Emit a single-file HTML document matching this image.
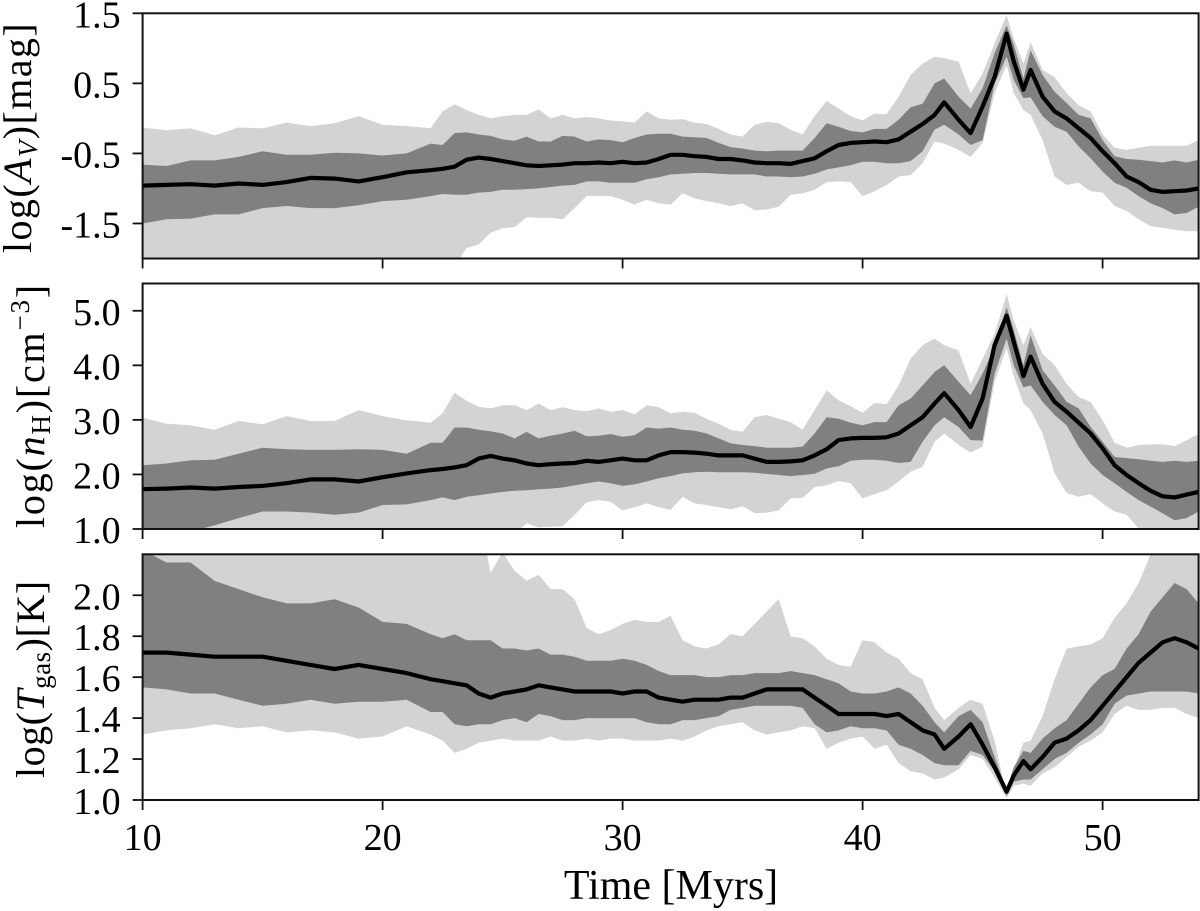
<!DOCTYPE html>
<html lang="en">
<head>
<meta charset="utf-8">
<title>Time evolution of extinction, density and gas temperature</title>
<style>
html,body{margin:0;padding:0;background:#fff;}
svg{display:block;}
text{font-family:"Liberation Serif",serif;fill:#000;}
</style>
</head>
<body>
<svg id="chart" xmlns="http://www.w3.org/2000/svg" width="1200" height="911" viewBox="0 0 1200 911">
  <text transform="translate(31,253) rotate(-90)" font-size="40" letter-spacing="1.4">log(<tspan font-style="italic">A</tspan><tspan font-style="italic" font-size="27" dy="6">V</tspan><tspan dy="-6">)[mag]</tspan></text>
  <text transform="translate(44,528) rotate(-90)" font-size="40" letter-spacing="1.8">log(<tspan font-style="italic">n</tspan><tspan font-size="27" dy="6">H</tspan><tspan dy="-6">)[cm</tspan><tspan font-size="27" dy="-15">−3</tspan><tspan dy="15">]</tspan></text>
  <text transform="translate(44,778) rotate(-90)" font-size="40" letter-spacing="0.5">log(<tspan font-style="italic">T</tspan><tspan font-size="27" dy="6">gas</tspan><tspan dy="-6">)[K]</tspan></text>
  <text x="671" y="899" font-size="42" text-anchor="middle">Time [Myrs]</text>
</svg>
<script>
const times=[10,11,12,13,14,15,16,17,18,19,20,21,22,22.5,23,23.5,24,24.5,25,25.5,26,26.5,27,27.5,28,28.5,29,
29.5,30,30.5,31,31.5,32,32.5,33,33.5,34,34.5,35,35.5,36,36.5,37,37.5,38,38.5,39,39.5,40,40.5,41,41.5,42,42.5,43,
43.4,44,44.5,45,45.5,46,46.3,46.7,47,
47.5,48,48.5,49,49.5,50,50.5,51,51.5,52,52.5,53,53.5,54];

const avOuterHigh=[-0.13,-0.17,-0.14,-0.24,-0.13,-0.14,-0.06,-0.11,-0.07,0.03,-0.09,-0.11,-0.14,0.1,0.2,0.12,0.05,0,0.03,0.05,0.05,0.13,0,0.05,0,0.02,0,
-0.03,-0.04,-0.06,0.1,0,-0.02,-0.01,-0.06,-0.08,-0.15,-0.23,-0.26,-0.09,-0.05,-0.07,-0.16,-0.23,0.03,0.25,0.14,0.03,-0.03,0.07,0.06,0.31,0.62,0.78,0.88,
0.86,0.81,0.36,0.64,1.07,1.47,1.14,0.78,1.09,
0.69,0.59,0.36,0.19,0.1,-0.23,-0.42,-0.45,-0.42,-0.39,-0.39,-0.39,-0.39,-0.31];
const avInnerHigh=[-0.66,-0.68,-0.6,-0.6,-0.55,-0.47,-0.52,-0.52,-0.49,-0.5,-0.53,-0.5,-0.36,-0.38,-0.21,-0.2,-0.23,-0.25,-0.3,-0.32,-0.26,-0.33,-0.33,-0.25,-0.26,-0.33,-0.3,
-0.31,-0.34,-0.28,-0.23,-0.22,-0.22,-0.26,-0.27,-0.28,-0.35,-0.41,-0.43,-0.46,-0.47,-0.46,-0.46,-0.46,-0.28,-0.07,-0.12,-0.18,-0.2,-0.15,-0.15,-0.02,0.16,0.21,0.5,
0.57,0.31,0.14,0.43,0.93,1.33,1.05,0.57,0.97,
0.62,0.38,0.22,0.05,0,-0.31,-0.54,-0.58,-0.59,-0.61,-0.63,-0.6,-0.63,-0.59];
const avMedian=[-0.96,-0.95,-0.94,-0.96,-0.93,-0.95,-0.91,-0.85,-0.86,-0.9,-0.84,-0.77,-0.74,-0.72,-0.69,-0.59,-0.56,-0.58,-0.61,-0.64,-0.67,-0.68,-0.67,-0.66,-0.64,-0.64,-0.63,
-0.64,-0.62,-0.64,-0.63,-0.58,-0.52,-0.52,-0.54,-0.55,-0.58,-0.58,-0.6,-0.63,-0.64,-0.64,-0.65,-0.61,-0.57,-0.47,-0.38,-0.35,-0.34,-0.33,-0.34,-0.3,-0.19,-0.08,0.05,
0.23,-0.02,-0.21,0.17,0.59,1.21,0.81,0.41,0.69,
0.31,0.1,0,-0.14,-0.28,-0.47,-0.64,-0.83,-0.91,-1.02,-1.05,-1.04,-1.03,-1];
const avInnerLow=[-1.5,-1.44,-1.43,-1.37,-1.37,-1.28,-1.25,-1.28,-1.28,-1.24,-1.18,-1.16,-1.11,-1.08,-1.09,-1.09,-1.06,-1.05,-1.02,-1.02,-1.01,-1,-0.98,-0.96,-0.95,-0.9,-0.9,
-0.92,-0.92,-0.92,-0.87,-0.84,-0.8,-0.79,-0.78,-0.78,-0.79,-0.8,-0.8,-0.8,-0.83,-0.83,-0.84,-0.83,-0.79,-0.73,-0.7,-0.67,-0.62,-0.62,-0.64,-0.64,-0.61,-0.47,-0.16,
-0.09,-0.23,-0.38,-0.31,0.5,0.88,0.55,0.29,0.3,
0.03,-0.12,-0.19,-0.4,-0.57,-0.76,-0.92,-0.99,-1.11,-1.21,-1.28,-1.37,-1.35,-1.26];
const avOuterLow=[-2.5,-2.5,-2.5,-2.5,-2.5,-2.5,-2.5,-2.5,-2.5,-2.5,-2.5,-2.5,-2.5,-2.4,-2.1,-1.85,-1.8,-1.63,-1.57,-1.55,-1.41,-1.42,-1.42,-1.44,-1.28,-1.11,-1.11,
-1.11,-1.16,-1.23,-1.16,-1.21,-1.23,-1.07,-1.14,-1.18,-1.21,-1.25,-1.21,-1.31,-1.3,-1.26,-1.09,-1.07,-1.02,-0.91,-0.9,-0.91,-1.11,-1.04,-0.95,-0.83,-0.81,-0.64,-0.33,
-0.36,-0.45,-0.55,-0.35,0.36,0.76,0.36,0.12,0.05,
-0.31,-0.83,-0.95,-0.92,-1.04,-1.06,-1.25,-1.32,-1.44,-1.54,-1.56,-1.59,-1.61,-1.61];

const nhOuterHigh=[3.04,2.93,2.9,2.82,2.98,2.92,3.07,2.98,2.98,3.18,3.07,2.99,2.95,3.12,3.5,3.35,3.24,3.21,3.27,3.27,3.18,3.3,3.18,3.23,3.18,3.16,3.21,
3.15,3.18,3.1,3.27,3.23,3.12,3.15,3.13,3.02,2.93,2.82,2.78,3.05,3.09,3.02,2.96,2.82,3.18,3.54,3.36,3.25,3.13,3.31,3.29,3.63,4.12,4.37,4.49,
4.37,4.27,3.66,4.12,4.58,5.3,4.82,4.37,4.7,
4.21,4,3.66,3.42,3.33,2.99,2.58,2.49,2.54,2.55,2.55,2.52,2.63,2.74];
const nhInnerHigh=[2.17,2.2,2.26,2.27,2.38,2.49,2.46,2.45,2.45,2.46,2.45,2.38,2.58,2.58,2.86,2.86,2.82,2.79,2.75,2.66,2.78,2.66,2.71,2.75,2.8,2.7,2.71,
2.74,2.69,2.72,2.86,2.84,2.86,2.82,2.8,2.75,2.66,2.57,2.54,2.52,2.49,2.49,2.49,2.51,2.75,3.05,3.02,2.95,2.9,2.96,2.96,3.27,3.39,3.63,3.88,
4,3.7,3.45,3.85,4.34,5.07,4.64,4,4.55,
3.91,3.63,3.33,3.21,2.87,2.6,2.32,2.3,2.28,2.25,2.23,2.25,2.23,2.25];
const nhMedian=[1.73,1.74,1.76,1.74,1.77,1.79,1.84,1.91,1.91,1.87,1.95,2.02,2.08,2.1,2.13,2.17,2.29,2.34,2.29,2.26,2.2,2.17,2.19,2.2,2.21,2.25,2.23,
2.26,2.29,2.26,2.26,2.35,2.41,2.41,2.4,2.38,2.35,2.35,2.35,2.29,2.23,2.23,2.24,2.26,2.35,2.46,2.63,2.66,2.67,2.67,2.68,2.75,2.9,3.05,3.3,
3.49,3.18,2.87,3.39,4.37,4.91,4.43,3.8,4.16,
3.66,3.33,3.15,2.95,2.75,2.48,2.17,1.99,1.84,1.7,1.6,1.58,1.63,1.68];
const nhInnerLow=[0.86,0.92,0.95,1.07,1.2,1.32,1.32,1.3,1.26,1.3,1.44,1.45,1.53,1.58,1.53,1.59,1.62,1.65,1.68,1.7,1.71,1.73,1.74,1.76,1.8,1.84,1.87,
1.84,1.79,1.82,1.87,1.93,1.97,2.02,2.04,2.05,2.04,2.04,2.04,2.03,2.01,1.99,1.97,1.99,2.01,2.11,2.15,2.25,2.27,2.27,2.25,2.21,2.23,2.6,2.9,
3.05,2.87,2.63,2.62,3.85,4.49,4,3.6,3.63,
3.33,3.09,2.9,2.51,2.2,1.99,1.84,1.68,1.53,1.41,1.29,1.16,1.2,1.32];
const nhOuterLow=[0.5,0.5,0.5,0.5,0.5,0.5,0.5,0.5,0.5,0.5,0.5,0.5,0.5,0.5,0.5,0.5,0.5,0.5,0.5,0.92,1.1,1.03,1.04,1.05,1.26,1.49,1.53,
1.5,1.34,1.4,1.47,1.4,1.35,1.59,1.47,1.44,1.4,1.36,1.42,1.29,1.3,1.34,1.56,1.57,1.77,1.8,1.88,1.84,1.56,1.64,1.71,1.87,2.05,2.14,2.6,
2.75,2.54,2.4,2.51,3.7,4.32,3.79,3.3,3.18,
2.75,2.02,1.66,1.59,1.64,1.47,1.32,1.26,1.01,0.92,0.89,0.86,0.95,1.01];

const tgOuterHigh=[2.4,2.4,2.4,2.4,2.4,2.4,2.4,2.4,2.4,2.4,2.4,2.4,2.4,2.4,2.4,2.4,2.4,2.11,2.21,2.12,2.07,2.1,2.03,2.03,1.98,1.84,1.81,
1.83,1.86,1.88,1.87,1.87,1.9,1.78,1.75,1.74,1.76,1.81,1.8,1.86,1.92,1.98,1.8,1.79,1.75,1.69,1.66,1.65,1.78,1.77,1.72,1.69,1.62,1.59,1.45,
1.39,1.45,1.49,1.47,1.29,1.02,1.15,1.28,1.29,
1.41,1.59,1.74,1.75,1.76,1.79,1.89,1.96,2.06,2.2,2.24,2.27,2.27,2.27];
const tgInnerHigh=[2.22,2.16,2.16,2.07,2.03,1.99,1.96,1.96,1.98,1.94,1.87,1.86,1.81,1.79,1.81,1.78,1.78,1.78,1.74,1.74,1.73,1.74,1.71,1.71,1.7,1.68,1.68,
1.68,1.69,1.68,1.66,1.63,1.61,1.61,1.61,1.6,1.6,1.61,1.61,1.62,1.62,1.62,1.63,1.62,1.61,1.59,1.57,1.53,1.52,1.52,1.53,1.55,1.52,1.46,1.38,
1.33,1.41,1.44,1.38,1.21,1.05,1.16,1.24,1.23,
1.3,1.35,1.39,1.47,1.55,1.61,1.64,1.74,1.81,1.92,1.99,2.06,2.03,1.96];
const tgMedian=[1.72,1.72,1.71,1.7,1.7,1.7,1.68,1.66,1.64,1.66,1.64,1.62,1.59,1.58,1.57,1.56,1.52,1.5,1.52,1.53,1.54,1.56,1.55,1.54,1.53,1.53,1.53,
1.53,1.52,1.53,1.53,1.5,1.49,1.48,1.49,1.49,1.49,1.5,1.5,1.52,1.54,1.54,1.54,1.54,1.5,1.46,1.42,1.42,1.42,1.42,1.41,1.42,1.38,1.34,1.32,
1.25,1.31,1.37,1.27,1.16,1.04,1.12,1.19,1.15,
1.21,1.28,1.3,1.34,1.39,1.46,1.53,1.6,1.67,1.72,1.77,1.79,1.77,1.74];
const tgInnerLow=[1.55,1.54,1.52,1.52,1.49,1.46,1.47,1.49,1.47,1.48,1.48,1.49,1.43,1.43,1.37,1.36,1.37,1.37,1.39,1.4,1.38,1.42,1.41,1.39,1.39,1.4,1.4,
1.4,1.4,1.4,1.38,1.37,1.37,1.39,1.39,1.4,1.41,1.44,1.45,1.46,1.46,1.46,1.46,1.45,1.37,1.33,1.34,1.36,1.35,1.35,1.34,1.27,1.25,1.22,1.18,
1.17,1.17,1.24,1.22,1.14,1.02,1.09,1.1,1.1,
1.15,1.2,1.23,1.28,1.32,1.37,1.47,1.51,1.52,1.53,1.53,1.53,1.53,1.52];
const tgOuterLow=[1.32,1.34,1.35,1.37,1.35,1.36,1.33,1.34,1.33,1.3,1.31,1.36,1.32,1.29,1.23,1.25,1.28,1.29,1.3,1.29,1.29,1.29,1.31,1.29,1.29,1.3,1.29,
1.3,1.3,1.29,1.29,1.29,1.3,1.29,1.31,1.34,1.36,1.37,1.38,1.34,1.32,1.33,1.34,1.36,1.35,1.25,1.28,1.3,1.31,1.25,1.27,1.18,1.14,1.13,1.1,
1.11,1.15,1.22,1.2,1.11,1.01,1.07,1.08,1.07,
1.13,1.16,1.21,1.26,1.29,1.33,1.42,1.46,1.44,1.44,1.45,1.45,1.42,1.4];

const avTicks=[1.5,0.5,-0.5,-1.5];
const avTickLabels=["1.5","0.5","-0.5","-1.5"];
const nhTicks=[5,4,3,2,1];
const nhTickLabels=["5.0","4.0","3.0","2.0","1.0"];
const tgTicks=[2,1.8,1.6,1.4,1.2,1];
const tgTickLabels=["2.0","1.8","1.6","1.4","1.2","1.0"];
const xTicks=[10,20,30,40,50];
const xTickLabels=["10","20","30","40","50"];

const SVG_NS="http://www.w3.org/2000/svg";
const chart=document.getElementById("chart");
const LEFT=142.6, RIGHT=1198.6;
function xScale(t){return LEFT+(t-10)*(RIGHT-LEFT)/44;}
function linearY(top,bottom,vMax,vMin){return function(v){return bottom-(v-vMin)*(bottom-top)/(vMax-vMin);};}
function make(tag,attrs,parent){
  const el=document.createElementNS(SVG_NS,tag);
  Object.keys(attrs).forEach(function(k){el.setAttribute(k,attrs[k]);});
  (parent||chart).appendChild(el);
  return el;
}
function bandPath(high,low,y){
  let d="";
  times.forEach(function(t,i){d+=(i?"L":"M")+xScale(t).toFixed(1)+" "+y(high[i]).toFixed(1);});
  for(let i=times.length-1;i>=0;i--){d+="L"+xScale(times[i]).toFixed(1)+" "+y(low[i]).toFixed(1);}
  return d+"Z";
}
function linePath(vals,y){
  let d="";
  times.forEach(function(t,i){d+=(i?"L":"M")+xScale(t).toFixed(1)+" "+y(vals[i]).toFixed(1);});
  return d;
}
function drawPanel(key,top,bottom,vMax,vMin,outerHigh,innerHigh,median,innerLow,outerLow,ticks,labels,showX){
  const y=linearY(top,bottom,vMax,vMin);
  const group=make("g",{});
  
  
  const clip=make("clipPath",{id:"clip-"+key},group);
  make("rect",{x:LEFT,y:top,width:RIGHT-LEFT,height:bottom-top},clip);
  const outer=make("path",{d:bandPath(outerHigh,outerLow,y),fill:"#d3d3d3","clip-path":"url(#clip-"+key+")"},group);
  
  
  const inner=make("path",{d:bandPath(innerHigh,innerLow,y),fill:"#808080","clip-path":"url(#clip-"+key+")"},group);
  
  
  const line=make("path",{d:linePath(median,y),fill:"none",stroke:"#000","stroke-width":4.2,"stroke-linejoin":"round","clip-path":"url(#clip-"+key+")"},group);
  
  
  const frame=make("rect",{x:LEFT,y:top,width:RIGHT-LEFT,height:bottom-top,fill:"none",stroke:"#111","stroke-width":2},group);
  
  
  ticks.forEach(function(v,i){
    const py=y(v);
    const tick=make("line",{x1:LEFT-10,x2:LEFT,y1:py,y2:py,stroke:"#111","stroke-width":1.8},group);
    
    
    const label=make("text",{x:LEFT-22,y:py+14,"font-size":38,"text-anchor":"end"},group);
    
    
    label.textContent=labels[i];
  });
  xTicks.forEach(function(t,i){
    const px=xScale(t);
    const tick=make("line",{x1:px,x2:px,y1:bottom,y2:bottom+10,stroke:"#111","stroke-width":1.8},group);
    
    
    if(showX){
      const label=make("text",{x:px,y:bottom+50,"font-size":38,"text-anchor":"middle"},group);
      
      
      label.textContent=xTickLabels[i];
    }
  });
}
drawPanel("av",13.3,258.5,1.5,-2,avOuterHigh,avInnerHigh,avMedian,avInnerLow,avOuterLow,avTicks,avTickLabels,false);
drawPanel("density",283.5,529,5.5,1,nhOuterHigh,nhInnerHigh,nhMedian,nhInnerLow,nhOuterLow,nhTicks,nhTickLabels,false);
drawPanel("temperature",554.3,800,2.2,1,tgOuterHigh,tgInnerHigh,tgMedian,tgInnerLow,tgOuterLow,tgTicks,tgTickLabels,true);
</script>
</body>
</html>
